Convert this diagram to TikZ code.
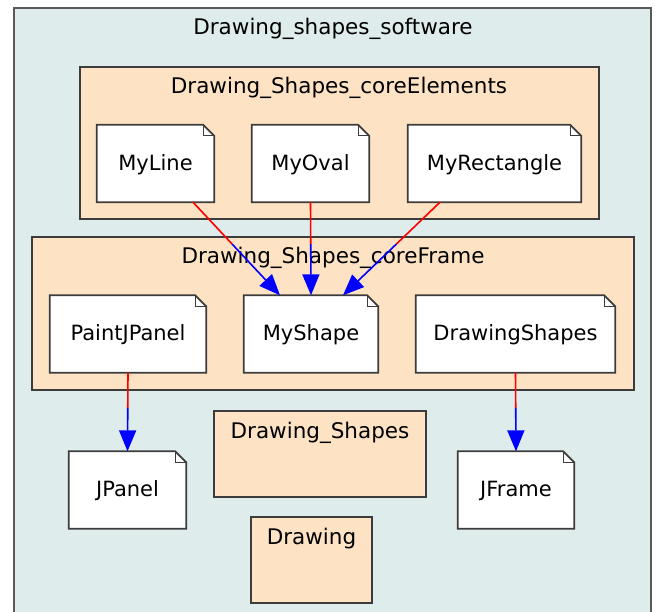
\documentclass[tikz,border=0pt]{standalone}
\usepackage{fontspec}
\setmainfont{DejaVu Sans}
\usetikzlibrary{positioning, calc, arrows.meta}

\definecolor{pkgbg}{RGB}{222,236,236}
\definecolor{clusterbg}{RGB}{253,227,196}
\definecolor{bordergray}{RGB}{60,60,60}

\tikzset{
  classnote/.style={minimum height=77pt, inner sep=0pt, font=\fontsize{21}{24}\selectfont},
  notebord/.style={draw=bordergray, line width=1.8pt, fill=white, line join=miter},
  clusterbox/.style={draw=bordergray, line width=1.8pt, fill=clusterbg},
  clustertitle/.style={inner sep=0pt, font=\fontsize{21.5}{24}\selectfont},
  redline/.style={draw=red, line width=1.6pt},
  blueline/.style={draw=blue, line width=1.6pt, -{Triangle[length=21pt,width=17pt]}}
}

\newcommand{\noteoutline}[1]{%
  \filldraw[notebord] (#1.south west) -- (#1.south east) -- ([yshift=-11pt]#1.north east)
    -- ([xshift=-11pt]#1.north east) -- (#1.north west) -- cycle;
  \draw[draw=bordergray, line width=1pt] ([xshift=-11pt]#1.north east) -- ([xshift=-11pt,yshift=-11pt]#1.north east)
    -- ([yshift=-11pt]#1.north east);}

\newcommand{\halfedge}[2]{%
  \draw[redline] (#1) -- ($(#1)!.45!(#2)$);
  \draw[blueline] ($(#1)!.45!(#2)$) -- (#2);}

\begin{document}
\begin{tikzpicture}[x=1pt, y=-1pt]
    \useasboundingbox (0,0) rectangle (655,612);
    \clip (0,0) rectangle (655,612);

    \filldraw[draw=gray!70!black, line width=2pt, fill=pkgbg] (14,8) rectangle (651,630);
    \node[clustertitle] (swtitle) at (333,29) {Drawing\_shapes\_software};

    \filldraw[clusterbox] (80,67) rectangle (599,219);
    \node[clustertitle] (elemtitle) at (339,88) {Drawing\_Shapes\_coreElements};

    \filldraw[clusterbox] (32,237) rectangle (634,390);
    \node[clustertitle] (frametitle) at (333,258) {Drawing\_Shapes\_coreFrame};

    \filldraw[clusterbox] (214,411) rectangle (426,497);
    \node[clustertitle] (shapestitle) at (320,433) {Drawing\_Shapes};

    \filldraw[clusterbox] (251,517) rectangle (372,603);
    \node[clustertitle] (drawtitle) at (311.5,539) {Drawing};

    \node[classnote, minimum width=117pt] (myline) at (155.5,163.5) {};
    \node[classnote, minimum width=117pt] (myoval) at (310.5,163.5) {};
    \node[classnote, minimum width=173pt] (myrect) at (494.5,163.5) {};

    \node[classnote, minimum width=156pt] (paint) at (128,334) {};
    \node[classnote, minimum width=134pt] (myshape) at (311,334) {};
    \node[classnote, minimum width=199pt] (drawshapes) at (515.5,334) {};

    \node[classnote, minimum width=117pt] (jpanel) at (127.5,490) {};
    \node[classnote, minimum width=116pt] (jframe) at (516,490) {};

    \foreach \n/\t in {myline/MyLine, myoval/MyOval, myrect/MyRectangle, paint/PaintJPanel,
        myshape/MyShape, drawshapes/DrawingShapes, jpanel/JPanel, jframe/JFrame}{
        \noteoutline{\n}
        \node[classnote] at ([yshift=-1pt]\n) {\t};
    }

    \coordinate (lineout) at ([xshift=37.5pt]myline.south);
    \coordinate (rectout) at ([xshift=-54.5pt]myrect.south);
    \coordinate (shapeinl) at ([xshift=-31pt]myshape.north);
    \coordinate (shapeinr) at ([xshift=32pt]myshape.north);

    \halfedge{lineout}{shapeinl}
    \halfedge{myoval.south}{myshape.north}
    \halfedge{rectout}{shapeinr}
    \halfedge{paint.south}{jpanel.north}
    \halfedge{drawshapes.south}{jframe.north}

\end{tikzpicture}
\end{document}
